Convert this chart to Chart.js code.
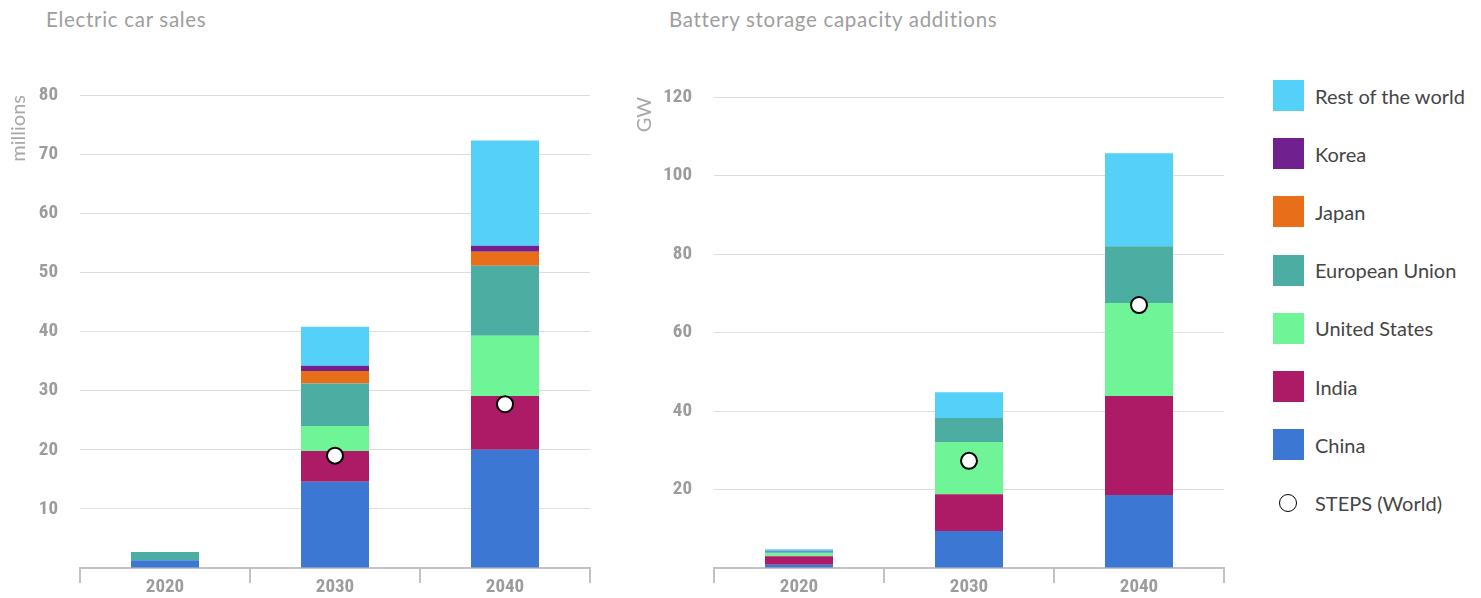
<!DOCTYPE html>
<html>
<head>
<meta charset="utf-8">
<script src="https://cdn.jsdelivr.net/npm/chart.js@4/dist/chart.umd.min.js"></script>
<style>
  html, body { margin: 0; padding: 0; background: #fff; }
  body { width: 1481px; height: 598px; position: relative; overflow: hidden; font-family: Lato, sans-serif; }
  .title { position: absolute; top: 9px; font-size: 20.5px; line-height: 20.5px; color: #9e9e9e; letter-spacing: 0.7px; white-space: nowrap; }
  .wrap { position: absolute; top: 0; height: 598px; }
  #legend { position: absolute; left: 1273px; top: 80px; }
  .item { position: absolute; left: 0; height: 31px; display: flex; align-items: center; white-space: nowrap; }
  .sw { width: 31px; height: 31px; flex: none; }
  .dot { width: 18px; height: 18px; border: 1.8px solid #000; border-radius: 50%; margin: 0 6px 0 6px; background: #fff; flex: none; box-sizing: border-box; }
  .lab { margin-left: 11px; font-size: 20px; color: #454545; }
</style>
</head>
<body>
<div class="title" style="left:46px">Electric car sales</div>
<div class="title" style="left:669px">Battery storage capacity additions</div>
<div class="wrap" style="left:0; width:592px"><canvas id="c1" width="592" height="598"></canvas></div>
<div class="wrap" style="left:620px; width:606px"><canvas id="c2" width="606" height="598"></canvas></div>
<div id="legend"></div>
<script>
const categories = ['2020', '2030', '2040'];
const seriesNames = ['China', 'India', 'United States', 'European Union', 'Japan', 'Korea', 'Rest of the world'];
const seriesColors = ['#3c78d3', '#ad1a66', '#6ff597', '#4caea2', '#e86e1a', '#71208f', '#55d0f8'];
const stepsName = 'STEPS (World)';

// Electric car sales (millions)
const carChina = [1.3, 14.6, 20.0];
const carIndia = [0, 5.2, 9.1];
const carUS = [0, 4.2, 10.2];
const carEU = [1.4, 7.2, 11.8];
const carJapan = [0, 2.1, 2.4];
const carKorea = [0, 0.9, 1.0];
const carRoW = [0, 6.6, 17.8];
const carSteps = [null, 19.0, 27.7];

// Battery storage capacity additions (GW)
const batChina = [0.8, 9.4, 18.6];
const batIndia = [2.2, 9.4, 25.2];
const batUS = [0.7, 13.3, 23.7];
const batEU = [0.3, 6.1, 14.5];
const batJapan = [0.1, 0, 0];
const batKorea = [0.1, 0, 0];
const batRoW = [0.6, 6.6, 23.7];
const batSteps = [null, 27.3, 67.0];

const carTicks = [10, 20, 30, 40, 50, 60, 70, 80];
const batTicks = [20, 40, 60, 80, 100, 120];

const tickFont = { family: "'Roboto Condensed', 'Liberation Sans Narrow', 'DejaVu Sans Condensed', Roboto, sans-serif", size: 19, weight: 'bold' };

function makeChart(id, series, steps, yMax, yStep, yTitle, yWidth, titlePad, topPad) {
  const datasets = series.map((vals, i) => ({
    type: 'bar',
    label: seriesNames[i],
    data: vals,
    backgroundColor: seriesColors[i],
    borderWidth: 0,
    barPercentage: 0.4,
    categoryPercentage: 1.0,
    stack: 'main',
    order: 2
  }));
  datasets.push({
    type: 'line',
    label: stepsName,
    data: steps,
    showLine: false,
    pointRadius: 8,
    pointHoverRadius: 8,
    pointBackgroundColor: '#ffffff',
    pointBorderColor: '#000000',
    pointBorderWidth: 2,
    stack: 'steps',
    order: 1
  });
  return new Chart(document.getElementById(id), {
    data: { labels: categories, datasets },
    options: {
      responsive: false,
      animation: false,
      events: [],
      layout: { autoPadding: false, padding: { top: topPad, right: 2, bottom: 0, left: 0 } },
      plugins: { legend: { display: false }, tooltip: { enabled: false }, title: { display: false } },
      scales: {
        x: {
          stacked: true,
          grid: { display: true, drawOnChartArea: false, drawTicks: true, tickLength: 15, offset: true, color: '#c2c2c2', lineWidth: 2 },
          border: { display: true, color: '#c2c2c2', width: 2 },
          ticks: { color: '#9c9c9c', font: tickFont, padding: -7, maxRotation: 0 },
          afterFit: s => { s.height = 30; }
        },
        y: {
          stacked: true,
          min: 0,
          max: yMax,
          grid: { color: '#dddddd', lineWidth: 1, drawTicks: true, tickLength: 22, tickColor: 'rgba(0,0,0,0)' },
          border: { display: false },
          ticks: {
            stepSize: yStep,
            color: '#9c9c9c',
            font: tickFont,
            padding: 0,
            callback: v => (v === 0 ? '' : String(v))
          },
          title: {
            display: true,
            text: yTitle,
            align: 'end',
            color: '#a8a8a8',
            font: { family: 'Lato, sans-serif', size: 20 },
            padding: { top: titlePad, bottom: 0 }
          },
          afterFit: s => { s.width = yWidth; }
        }
      }
    }
  });
}

makeChart('c1', [carChina, carIndia, carUS, carEU, carJapan, carKorea, carRoW], carSteps, carTicks[carTicks.length - 1], carTicks[1] - carTicks[0], 'millions', 80, 7, 95);
makeChart('c2', [batChina, batIndia, batUS, batEU, batJapan, batKorea, batRoW], batSteps, batTicks[batTicks.length - 1], batTicks[1] - batTicks[0], 'GW', 94, 13, 97);

// Legend (reverse order, then STEPS)
const legend = document.getElementById('legend');
const order = [6, 5, 4, 3, 2, 1, 0];
order.forEach((idx, k) => {
  const it = document.createElement('div');
  it.className = 'item';
  it.style.top = (k * 58.2) + 'px';
  it.innerHTML = '<div class="sw" style="background:' + seriesColors[idx] + '"></div><div class="lab">' + seriesNames[idx] + '</div>';
  legend.appendChild(it);
});
const st = document.createElement('div');
st.className = 'item';
st.style.top = (7 * 58.2) + 'px';
st.innerHTML = '<div class="dot"></div><div class="lab" style="margin-left:12px">' + stepsName + '</div>';
legend.appendChild(st);
</script>
</body>
</html>
